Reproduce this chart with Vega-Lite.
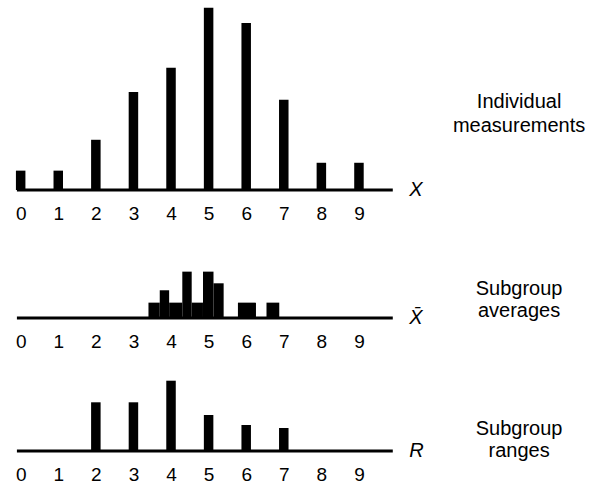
{
  "$schema": "https://vega.github.io/schema/vega-lite/v6.json",
  "padding": 0,
  "background": "white",
  "spacing": 0,
  "bounds": "flush",
  "config": {
    "view": {"stroke": null},
    "font": "Liberation Sans",
    "axis": {
      "domain": false,
      "ticks": false,
      "tickSize": 0,
      "grid": false,
      "labelFont": "Liberation Sans",
      "labelFontSize": 19,
      "labelColor": "#000",
      "labelPadding": 14,
      "title": null
    },
    "text": {"font": "Liberation Sans", "fontSize": 20, "color": "#000"}
  },
  "datasets": {
    "individual": [
      {"value": 0, "count": 3.2},
      {"value": 1, "count": 3.2},
      {"value": 2, "count": 8.3},
      {"value": 3, "count": 16.2},
      {"value": 4, "count": 20.2},
      {"value": 5, "count": 30.1},
      {"value": 6, "count": 27.6},
      {"value": 7, "count": 14.9},
      {"value": 8, "count": 4.5},
      {"value": 9, "count": 4.5}
    ],
    "averages": [
      {"lo": 3.4, "hi": 3.7, "count": 1.08},
      {"lo": 3.7, "hi": 3.95, "count": 1.95},
      {"lo": 3.95, "hi": 4.3, "count": 1.08},
      {"lo": 4.3, "hi": 4.55, "count": 3.26},
      {"lo": 4.55, "hi": 4.85, "count": 1.08},
      {"lo": 4.85, "hi": 5.13, "count": 3.26},
      {"lo": 5.13, "hi": 5.4, "count": 2.44},
      {"lo": 5.78, "hi": 6.26, "count": 1.08},
      {"lo": 6.54, "hi": 6.88, "count": 1.08}
    ],
    "ranges": [
      {"value": 2, "count": 4.87},
      {"value": 3, "count": 4.87},
      {"value": 4, "count": 7.03},
      {"value": 5, "count": 3.6},
      {"value": 6, "count": 2.6},
      {"value": 7, "count": 2.3}
    ],
    "anchor": [{}]
  },
  "vconcat": [
    {
      "width": 592,
      "height": 190,
      "layer": [
        {
          "data": {"name": "individual"},
          "mark": {"type": "bar", "size": 9.5, "color": "#000"},
          "encoding": {
            "x": {"field": "value", "type": "quantitative", "scale": {"domain": [-0.55, 15.2], "nice": false, "zero": false, "padding": 0}, "axis": {"values": [0, 1, 2, 3, 4, 5, 6, 7, 8, 9]}},
            "y": {"field": "count", "type": "quantitative", "scale": {"domain": [0, 31.4], "nice": false, "padding": 0}, "axis": null}
          }
        },
        {
          "data": {"name": "anchor"},
          "mark": {"type": "rule", "strokeWidth": 3, "color": "#000"},
          "encoding": {
            "x": {"datum": -0.1, "type": "quantitative"},
            "x2": {"datum": 9.9},
            "y": {"datum": 0, "type": "quantitative"}
          }
        },
        {
          "data": {"name": "anchor"},
          "mark": {"type": "text", "text": "X", "fontStyle": "italic", "align": "left", "baseline": "middle"},
          "encoding": {
            "x": {"datum": 10.34, "type": "quantitative"},
            "y": {"datum": 0, "type": "quantitative"}
          }
        },
        {
          "data": {"name": "anchor"},
          "mark": {"type": "text", "text": ["Individual", "measurements"], "align": "center", "baseline": "alphabetic", "lineHeight": 24.5},
          "encoding": {
            "x": {"datum": 13.26, "type": "quantitative"},
            "y": {"datum": 13.6, "type": "quantitative"}
          }
        }
      ]
    },
    {
      "width": 592,
      "height": 128,
      "layer": [
        {
          "data": {"name": "averages"},
          "mark": {"type": "rect", "color": "#000"},
          "encoding": {
            "x": {"field": "lo", "type": "quantitative", "scale": {"domain": [-0.55, 15.2], "nice": false, "zero": false, "padding": 0}, "axis": {"values": [0, 1, 2, 3, 4, 5, 6, 7, 8, 9]}},
            "x2": {"field": "hi"},
            "y": {"field": "count", "type": "quantitative", "scale": {"domain": [0, 9], "nice": false, "padding": 0}, "axis": null},
            "y2": {"datum": 0}
          }
        },
        {
          "data": {"name": "anchor"},
          "mark": {"type": "rule", "strokeWidth": 3, "color": "#000"},
          "encoding": {
            "x": {"datum": -0.1, "type": "quantitative"},
            "x2": {"datum": 9.9},
            "y": {"datum": 0, "type": "quantitative"}
          }
        },
        {
          "data": {"name": "anchor"},
          "mark": {"type": "text", "text": "X\u0304", "fontStyle": "italic", "align": "left", "baseline": "middle"},
          "encoding": {
            "x": {"datum": 10.34, "type": "quantitative"},
            "y": {"datum": 0, "type": "quantitative"}
          }
        },
        {
          "data": {"name": "anchor"},
          "mark": {"type": "text", "text": ["Subgroup", "averages"], "align": "center", "baseline": "alphabetic", "lineHeight": 22},
          "encoding": {
            "x": {"datum": 13.26, "type": "quantitative"},
            "y": {"datum": 1.62, "type": "quantitative"}
          }
        }
      ]
    },
    {
      "width": 592,
      "height": 133,
      "layer": [
        {
          "data": {"name": "ranges"},
          "mark": {"type": "bar", "size": 9.5, "color": "#000"},
          "encoding": {
            "x": {"field": "value", "type": "quantitative", "scale": {"domain": [-0.55, 15.2], "nice": false, "zero": false, "padding": 0}, "axis": {"values": [0, 1, 2, 3, 4, 5, 6, 7, 8, 9]}},
            "y": {"field": "count", "type": "quantitative", "scale": {"domain": [0, 13.3], "nice": false, "padding": 0}, "axis": null}
          }
        },
        {
          "data": {"name": "anchor"},
          "mark": {"type": "rule", "strokeWidth": 3, "color": "#000"},
          "encoding": {
            "x": {"datum": -0.1, "type": "quantitative"},
            "x2": {"datum": 9.9},
            "y": {"datum": 0, "type": "quantitative"}
          }
        },
        {
          "data": {"name": "anchor"},
          "mark": {"type": "text", "text": "R", "fontStyle": "italic", "align": "left", "baseline": "middle"},
          "encoding": {
            "x": {"datum": 10.34, "type": "quantitative"},
            "y": {"datum": 0, "type": "quantitative"}
          }
        },
        {
          "data": {"name": "anchor"},
          "mark": {"type": "text", "text": ["Subgroup", "ranges"], "align": "center", "baseline": "alphabetic", "lineHeight": 22},
          "encoding": {
            "x": {"datum": 13.26, "type": "quantitative"},
            "y": {"datum": 1.6, "type": "quantitative"}
          }
        }
      ]
    }
  ]
}
